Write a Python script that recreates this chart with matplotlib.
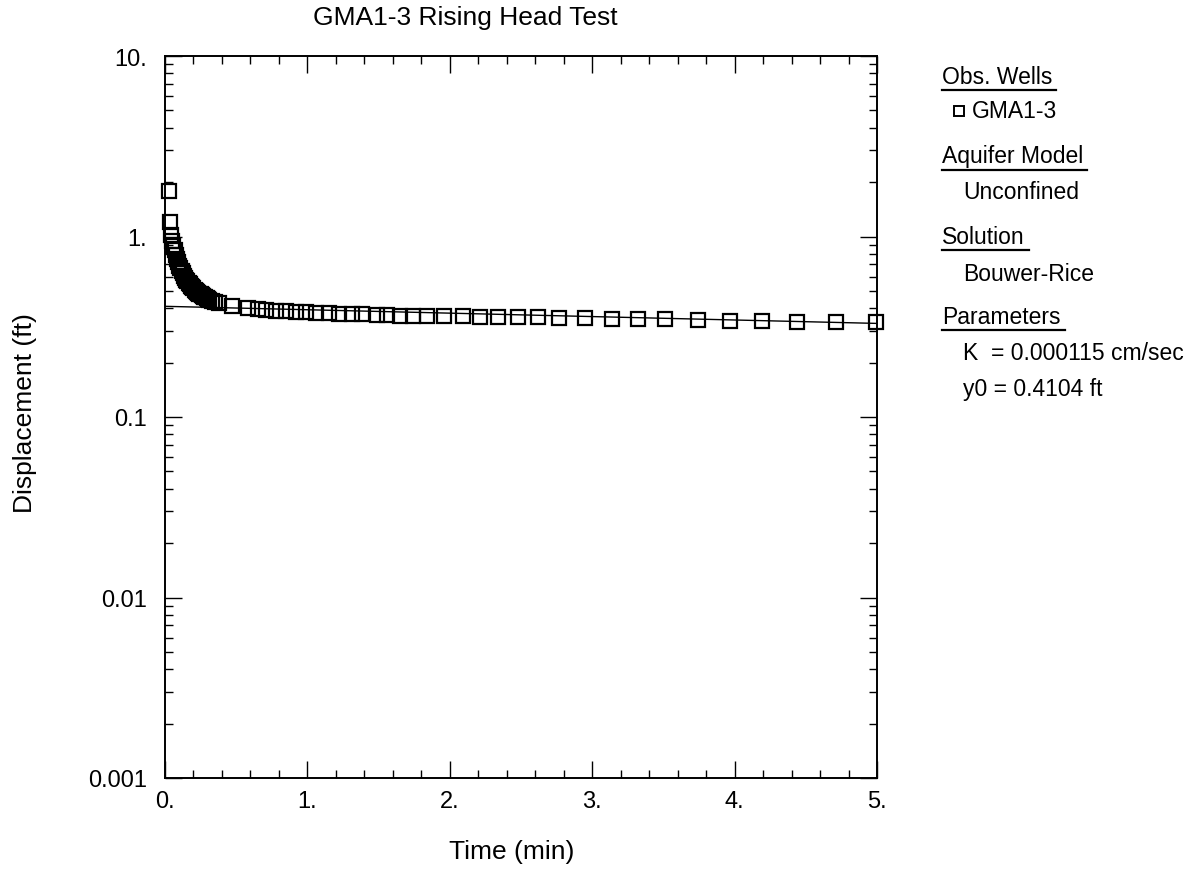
import matplotlib
matplotlib.use("Agg")
import matplotlib.pyplot as plt
from matplotlib.lines import Line2D
from matplotlib.ticker import FixedLocator, NullFormatter, LogLocator, MultipleLocator

plt.rcParams['font.family'] = ['Liberation Sans', 'DejaVu Sans']

# ---- data ----
title = "GMA1-3 Rising Head Test"
x_label = "Time (min)"
y_label = "Displacement (ft)"

obs_time = [0.025, 0.033, 0.042, 0.05, 0.058, 0.067, 0.075, 0.083, 0.092, 0.1,
            0.108, 0.117, 0.125, 0.133, 0.142, 0.15, 0.158, 0.167, 0.175, 0.183,
            0.192, 0.2, 0.208, 0.217, 0.225, 0.233, 0.242, 0.25, 0.258, 0.267,
            0.275, 0.283, 0.292, 0.3, 0.31, 0.33, 0.35, 0.38, 0.47, 0.58, 0.65, 0.71,
            0.78, 0.85, 0.92, 0.99, 1.06, 1.15, 1.22, 1.31, 1.38, 1.49,
            1.56, 1.65, 1.74, 1.84, 1.96, 2.09, 2.21, 2.34, 2.48, 2.62,
            2.77, 2.95, 3.14, 3.32, 3.51, 3.74, 3.97, 4.19, 4.44, 4.71, 4.99]
obs_disp = [1.78, 1.2, 1.02, 0.95, 0.89, 0.84, 0.79, 0.75, 0.72, 0.69,
            0.665, 0.645, 0.625, 0.607, 0.59, 0.577, 0.565, 0.553, 0.543, 0.533,
            0.524, 0.516, 0.508, 0.501, 0.495, 0.489, 0.483, 0.478, 0.473, 0.468,
            0.464, 0.46, 0.456, 0.452, 0.447, 0.441, 0.435, 0.428, 0.41, 0.40, 0.396, 0.392,
            0.389, 0.386, 0.383, 0.38, 0.378, 0.376, 0.374, 0.372, 0.37, 0.368,
            0.366, 0.365, 0.364, 0.363, 0.362, 0.361, 0.36, 0.359, 0.358, 0.357,
            0.355, 0.353, 0.351, 0.349, 0.347, 0.344, 0.342, 0.34, 0.338, 0.336, 0.334]

fit_time = [0.0, 5.0]
fit_disp = [0.4104, 0.33]

x_ticks = [0, 1, 2, 3, 4, 5]
x_ticklabels = ["0.", "1.", "2.", "3.", "4.", "5."]
y_ticks = [0.001, 0.01, 0.1, 1, 10]
y_ticklabels = ["0.001", "0.01", "0.1", "1.", "10."]

legend_blocks = [
    ("Obs. Wells", ["GMA1-3"]),
    ("Aquifer Model", ["Unconfined"]),
    ("Solution", ["Bouwer-Rice"]),
    ("Parameters", ["K  = 0.000115 cm/sec", "y0 = 0.4104 ft"]),
]

# ---- figure ----
W, H = 1204, 878
fig = plt.figure(figsize=(W / 100, H / 100), dpi=100)
L, R, T, B = 165, 877, 57, 779
ax = fig.add_axes([L / W, 1 - B / H, (R - L) / W, (B - T) / H])

ax.set_yscale('log')
ax.set_xlim(0, 5)
ax.set_ylim(0.001, 10)

ax.plot(fit_time, fit_disp, color='black', lw=1.0, zorder=2)
ax.plot(obs_time, obs_disp, linestyle='none', marker='s', markersize=9.5,
        markerfacecolor='none', markeredgecolor='black', markeredgewidth=1.6,
        clip_on=False, zorder=3)

ax.set_xticks(x_ticks)
ax.set_xticklabels(x_ticklabels)
ax.xaxis.set_minor_locator(MultipleLocator(0.2))
ax.yaxis.set_major_locator(FixedLocator(y_ticks))
ax.set_yticklabels(y_ticklabels)
ax.yaxis.set_minor_locator(LogLocator(base=10, subs=range(2, 10)))
ax.yaxis.set_minor_formatter(NullFormatter())

ax.tick_params(which='both', direction='in', top=True, right=True, color='black', width=1.0)
ax.tick_params(which='major', length=12, labelsize=17)
ax.tick_params(axis='x', which='major', pad=9)
ax.tick_params(axis='y', which='major', pad=13)
ax.tick_params(which='minor', length=6)
for s in ax.spines.values():
    s.set_linewidth(1.4)

fig.text(465 / W, 1 - 18 / H, title, fontsize=19, ha='center', va='center')
fig.text(512 / W, 1 - 852 / H, x_label, fontsize=19, ha='center', va='center')
fig.text(25 / W, 1 - 413 / H, y_label, fontsize=19, ha='center', va='center', rotation=90)

# ---- legend panel ----
fs = 16.5
head_x = 942
item_x = 963
rows = [77, 112, 157, 193, 237, 275, 317, 354, 390]
fig.canvas.draw()
renderer = fig.canvas.get_renderer()
r = 0
for head, items in legend_blocks:
    yy = 1 - rows[r] / H
    t = fig.text(head_x / W, yy, head, fontsize=fs, va='center', ha='left')
    bb = t.get_window_extent(renderer)
    uy = 1 - (rows[r] + 14) / H
    fig.add_artist(Line2D([head_x / W, (bb.x1 + 4) / W], [uy, uy], color='black', lw=1.6,
                          transform=fig.transFigure))
    r += 1
    for it in items:
        yy = 1 - rows[r] / H
        if head == "Obs. Wells":
            fig.add_artist(Line2D([959 / W], [yy], marker='s', markersize=7,
                                  markerfacecolor='none', markeredgecolor='black',
                                  markeredgewidth=1.4, transform=fig.transFigure))
            fig.text(972 / W, yy, it, fontsize=fs, va='center', ha='left')
        else:
            fig.text(item_x / W, yy, it, fontsize=fs, va='center', ha='left')
        r += 1

fig.savefig("out.png", dpi=100)
